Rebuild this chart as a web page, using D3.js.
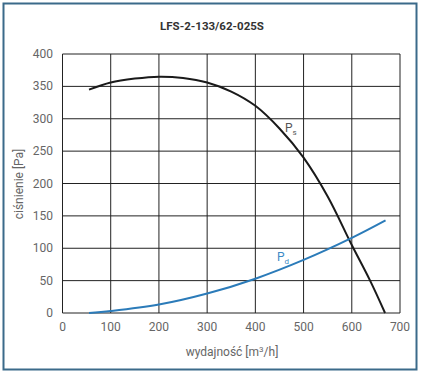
<!DOCTYPE html>
<html>
<head>
<meta charset="utf-8">
<script src="https://cdn.jsdelivr.net/npm/d3@7"></script>
<style>
body { margin: 0; background: #fff; }
text { font-family: "Roboto", "Open Sans", sans-serif; }
</style>
</head>
<body>
<script>
var w = 422;
var h = 374;

var title = "LFS-2-133/62-025S";
var xTicks = [0, 100, 200, 300, 400, 500, 600, 700];
var yTicks = [0, 50, 100, 150, 200, 250, 300, 350, 400];

// static pressure curve Ps [flow, Pa]
var psFlow = [55, 100, 150, 200, 250, 300, 350, 400, 450, 500, 550, 600, 638, 669];
var psVal = [345, 356, 362, 365, 363, 356, 342, 320, 285, 240, 180, 105, 50, 0];

// dynamic pressure curve Pd
var pdFlow = [55, 100, 200, 300, 400, 500, 600, 670];
var pdVal = [0, 3, 13, 30, 53, 82, 116, 143];

var svg = d3.select("body")
  .append("svg")
  .attr("width", w)
  .attr("height", h);

// frame
svg.append("rect")
  .attr("x", 3.5)
  .attr("y", 3.5)
  .attr("width", 413)
  .attr("height", 366)
  .attr("fill", "none")
  .attr("stroke", "#3b6a8a")
  .attr("stroke-width", 2);

var x = d3.scaleLinear().domain([0, 700]).range([62.5, 400]);
var y = d3.scaleLinear().domain([0, 400]).range([313, 54]);

// grid
svg.selectAll(".hgrid")
  .data(yTicks)
  .enter().append("line")
  .attr("x1", x(0)).attr("x2", x(700))
  .attr("y1", d => y(d)).attr("y2", d => y(d))
  .attr("stroke", "#222")
  .attr("stroke-width", 1);

svg.selectAll(".vgrid")
  .data(xTicks)
  .enter().append("line")
  .attr("y1", y(0)).attr("y2", y(400))
  .attr("x1", d => x(d)).attr("x2", d => x(d))
  .attr("stroke", "#222")
  .attr("stroke-width", 1);

// tick labels
svg.selectAll(".ylab")
  .data(yTicks)
  .enter().append("text")
  .attr("x", 53)
  .attr("y", d => y(d) + 4)
  .attr("text-anchor", "end")
  .attr("font-size", 12)
  .attr("fill", "#666")
  .text(d => d);

svg.selectAll(".xlab")
  .data(xTicks)
  .enter().append("text")
  .attr("x", d => x(d))
  .attr("y", 331)
  .attr("text-anchor", "middle")
  .attr("font-size", 12)
  .attr("fill", "#666")
  .text(d => d);

// title
svg.append("text")
  .attr("x", 212)
  .attr("y", 30)
  .attr("text-anchor", "middle")
  .attr("font-size", 11.5)
  .attr("font-weight", "bold")
  .attr("fill", "#333")
  .text(title);

// axis titles
svg.append("text")
  .attr("transform", "translate(23,184) rotate(-90)")
  .attr("text-anchor", "middle")
  .attr("font-size", 12)
  .attr("fill", "#666")
  .text("ciśnienie [Pa]");

var xt = svg.append("text")
  .attr("x", 232)
  .attr("y", 356)
  .attr("text-anchor", "middle")
  .attr("font-size", 12)
  .attr("fill", "#666");
xt.append("tspan").text("wydajność [m");
xt.append("tspan").attr("font-size", 8).attr("dy", -4).text("3");
xt.append("tspan").attr("dy", 4).text("/h]");

// curves
var line = d3.line()
  .x(d => x(d[0]))
  .y(d => y(d[1]))
  .curve(d3.curveCatmullRom.alpha(0.5));

svg.append("path")
  .datum(d3.zip(psFlow, psVal))
  .attr("d", line)
  .attr("fill", "none")
  .attr("stroke", "#1a1a1a")
  .attr("stroke-width", 2);

svg.append("path")
  .datum(d3.zip(pdFlow, pdVal))
  .attr("d", line)
  .attr("fill", "none")
  .attr("stroke", "#2b7bb9")
  .attr("stroke-width", 2);

// curve labels
var ps = svg.append("text")
  .attr("x", 285)
  .attr("y", 132)
  .attr("font-size", 12)
  .attr("fill", "#555");
ps.append("tspan").text("P");
ps.append("tspan").attr("font-size", 8).attr("dy", 3).text("s");

var pd = svg.append("text")
  .attr("x", 277)
  .attr("y", 261)
  .attr("font-size", 12)
  .attr("fill", "#3b8ac6");
pd.append("tspan").text("P");
pd.append("tspan").attr("font-size", 8).attr("dy", 3).text("d");
</script>
</body>
</html>
